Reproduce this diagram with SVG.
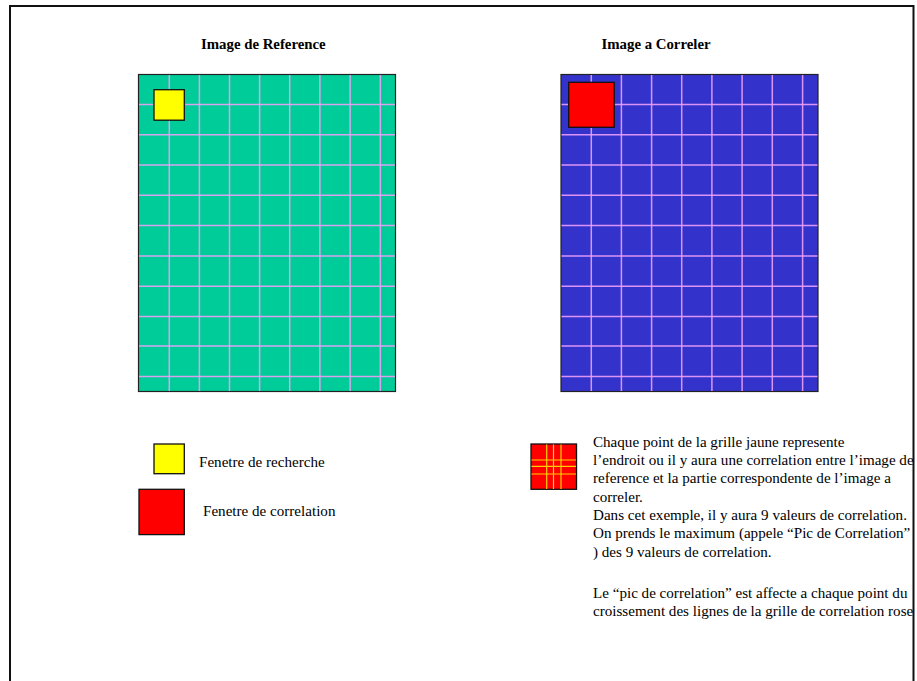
<svg xmlns="http://www.w3.org/2000/svg" width="917" height="681" viewBox="0 0 917 681">
<style>
text{font-family:"Liberation Serif","Times New Roman",serif;fill:#000}
.title{font-size:14.8px;font-weight:bold}
.t{font-size:15.1px}
.grid line{stroke:#ee9ef8;stroke-width:1.5;stroke-opacity:0.9}
.box{stroke:#111;stroke-width:1.3}
.ygrid line{stroke:#ffd000;stroke-width:1.2}
</style>
<rect x="0" y="0" width="917" height="681" fill="#fff"/>
<path d="M10 690 V6 H913.5 V690" fill="none" stroke="#111" stroke-width="2"/>
<text class="title" x="201" y="49">Image de Reference</text>
<text class="title" x="601.5" y="49">Image a Correler</text>
<g id="reference-image">
<rect x="138.5" y="74.5" width="257" height="317" fill="#00cc99" stroke="#222" stroke-width="1.2"/>
<g class="grid">
<line x1="169.3" y1="75" x2="169.3" y2="391"/><line x1="199.4" y1="75" x2="199.4" y2="391"/><line x1="229.5" y1="75" x2="229.5" y2="391"/><line x1="259.6" y1="75" x2="259.6" y2="391"/><line x1="289.7" y1="75" x2="289.7" y2="391"/><line x1="319.9" y1="75" x2="319.9" y2="391"/><line x1="350.1" y1="75" x2="350.1" y2="391"/><line x1="380.3" y1="75" x2="380.3" y2="391"/>
<line x1="139" y1="104.4" x2="395" y2="104.4"/><line x1="139" y1="134.7" x2="395" y2="134.7"/><line x1="139" y1="165" x2="395" y2="165"/><line x1="139" y1="195.3" x2="395" y2="195.3"/><line x1="139" y1="225.6" x2="395" y2="225.6"/><line x1="139" y1="255.9" x2="395" y2="255.9"/><line x1="139" y1="286.2" x2="395" y2="286.2"/><line x1="139" y1="316.5" x2="395" y2="316.5"/><line x1="139" y1="346.1" x2="395" y2="346.1"/><line x1="139" y1="376.4" x2="395" y2="376.4"/>
</g>
<rect class="box" x="154" y="89.7" width="30.3" height="30.5" fill="#ffff00"/>
</g>
<g id="image-to-correlate">
<rect x="561" y="74.5" width="257" height="317" fill="#3333cc" stroke="#222" stroke-width="1.2"/>
<g class="grid">
<line x1="591.3" y1="75" x2="591.3" y2="391"/><line x1="621.4" y1="75" x2="621.4" y2="391"/><line x1="651.6" y1="75" x2="651.6" y2="391"/><line x1="681.7" y1="75" x2="681.7" y2="391"/><line x1="711.9" y1="75" x2="711.9" y2="391"/><line x1="742.1" y1="75" x2="742.1" y2="391"/><line x1="772.3" y1="75" x2="772.3" y2="391"/><line x1="802.6" y1="75" x2="802.6" y2="391"/>
<line x1="561.5" y1="104.4" x2="817.5" y2="104.4"/><line x1="561.5" y1="134.7" x2="817.5" y2="134.7"/><line x1="561.5" y1="165" x2="817.5" y2="165"/><line x1="561.5" y1="195.3" x2="817.5" y2="195.3"/><line x1="561.5" y1="225.6" x2="817.5" y2="225.6"/><line x1="561.5" y1="255.9" x2="817.5" y2="255.9"/><line x1="561.5" y1="286.2" x2="817.5" y2="286.2"/><line x1="561.5" y1="316.5" x2="817.5" y2="316.5"/><line x1="561.5" y1="346.1" x2="817.5" y2="346.1"/><line x1="561.5" y1="376.4" x2="817.5" y2="376.4"/>
</g>
<rect class="box" x="568.7" y="82.3" width="45.5" height="45" fill="#ff0000"/>
</g>
<g id="legend-search">
<rect class="box" x="154" y="444" width="30.3" height="29.7" fill="#ffff00"/>
<text class="t" x="199" y="467">Fenetre de recherche</text>
</g>
<g id="legend-correlation">
<rect class="box" x="139" y="489.3" width="45.3" height="45.3" fill="#ff0000"/>
<text class="t" x="203" y="516">Fenetre de correlation</text>
</g>
<g id="legend-grid">
<rect class="box" x="531" y="444" width="45.5" height="45.3" fill="#ff0000"/>
<g class="ygrid">
<line x1="546.7" y1="444.5" x2="546.7" y2="489"/><line x1="553.5" y1="444.5" x2="553.5" y2="489"/><line x1="561" y1="444.5" x2="561" y2="489"/>
<line x1="531.5" y1="460" x2="576" y2="460"/><line x1="531.5" y1="466.3" x2="576" y2="466.3"/><line x1="531.5" y1="474" x2="576" y2="474"/>
</g>
<text class="t" x="593">
<tspan x="593" y="446.5">Chaque point de la grille jaune represente</tspan>
<tspan x="593" y="465">l’endroit ou il y aura une correlation entre l’image de</tspan>
<tspan x="593" y="483.3">reference et la partie correspondente de l’image a</tspan>
<tspan x="593" y="501.6">correler.</tspan>
<tspan x="593" y="520">Dans cet exemple, il y aura 9 valeurs de correlation.</tspan>
<tspan x="593" y="538.3">On prends le maximum (appele “Pic de Correlation”</tspan>
<tspan x="593" y="556.6">) des 9 valeurs de correlation.</tspan>
<tspan x="593" y="598">Le “pic de correlation” est affecte a chaque point du</tspan>
<tspan x="593" y="616.3">croissement des lignes de la grille de correlation rose</tspan>
</text>
</g>
</svg>
